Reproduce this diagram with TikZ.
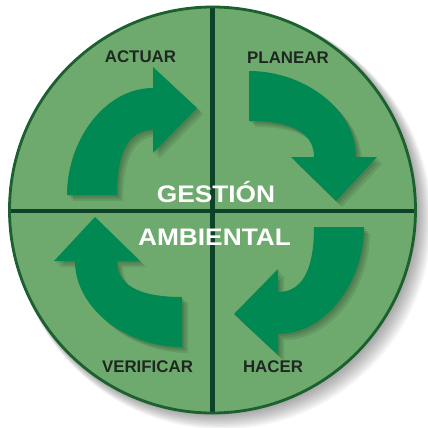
\documentclass[tikz,border=0pt]{standalone}
\usepackage{fontspec}
\usepackage{graphicx}
\setmainfont{Liberation Sans}
\definecolor{cDisc}{RGB}{110,170,110}
\definecolor{cRim}{RGB}{28,96,48}
\definecolor{cCross}{RGB}{12,66,40}
\definecolor{cArrow}{RGB}{0,137,82}
\definecolor{cLabel}{RGB}{30,40,32}
\tikzset{
	cyclearrow/.pic={
		\path[pic actions] (-25,0) .. controls (-25,-55) and (13,-107) .. (61,-107)
			-- (61,-128) -- (105,-87) -- (61,-42) -- (61,-65)
			.. controls (38,-65) and (25,-45) .. (25,0) -- cycle;
	},
	arrowfill/.style={fill=cArrow},
	arrowshade/.style={fill=black, opacity=0.09},
	steplabel/.style={anchor=base, inner sep=0pt, text=cLabel, font=\fontsize{12}{14}\selectfont\bfseries},
	centerlabel/.style={anchor=base, inner sep=0pt, text=white, font=\fontsize{17}{20}\selectfont\bfseries},
	% disc helpers
	crossline/.style={draw=cCross, line width=3.2pt},
}

\begin{document}
\begin{tikzpicture}[x=0.025cm, y=-0.025cm]
	\useasboundingbox (0,0) rectangle (428,428);
	\fill[white] (0,0) rectangle (428,428);
	% soft shadow of the disc
	\foreach \s in {1,...,10}
		\fill[black, opacity=0.04] (212.5+1.0*\s,210+1.0*\s) circle (203+0.6*\s);
	\fill[cDisc] (212.5,210) circle (204);
	\begin{scope}
		\clip (212.5,210) circle (204);
		\draw[crossline] (212.5,0) -- (212.5,428);
		\draw[crossline, line width=2.8pt] (0,211) -- (428,211);
	\end{scope}
	\draw[cRim, line width=2pt] (212.5,210) circle (203);
	% arrows with their shadows
	\foreach \px/\py/\rot in {92/195/0, 249/96/-90, 339/227/180, 182/322/90}{
		\foreach \s in {2,4,6}
			\pic[arrowshade, rotate=\rot] at (\px+\s,\py+\s) {cyclearrow};
		\pic[arrowfill, rotate=\rot] at (\px,\py) {cyclearrow};
	}
	\node[steplabel] (actuar) at (140.5,62) {ACTUAR};
	\node[steplabel] (planear) at (288,63) {PLANEAR};
	\node[steplabel] (verificar) at (147.5,372) {VERIFICAR};
	\node[steplabel] (hacer) at (273,372) {HACER};
	\node[centerlabel] (gestion) at (216,202) {\scalebox{1.1}[1]{GESTIÓN}};
	\node[centerlabel] (ambiental) at (214.5,245) {\scalebox{1.1}[1]{AMBIENTAL}};
\end{tikzpicture}
\end{document}
